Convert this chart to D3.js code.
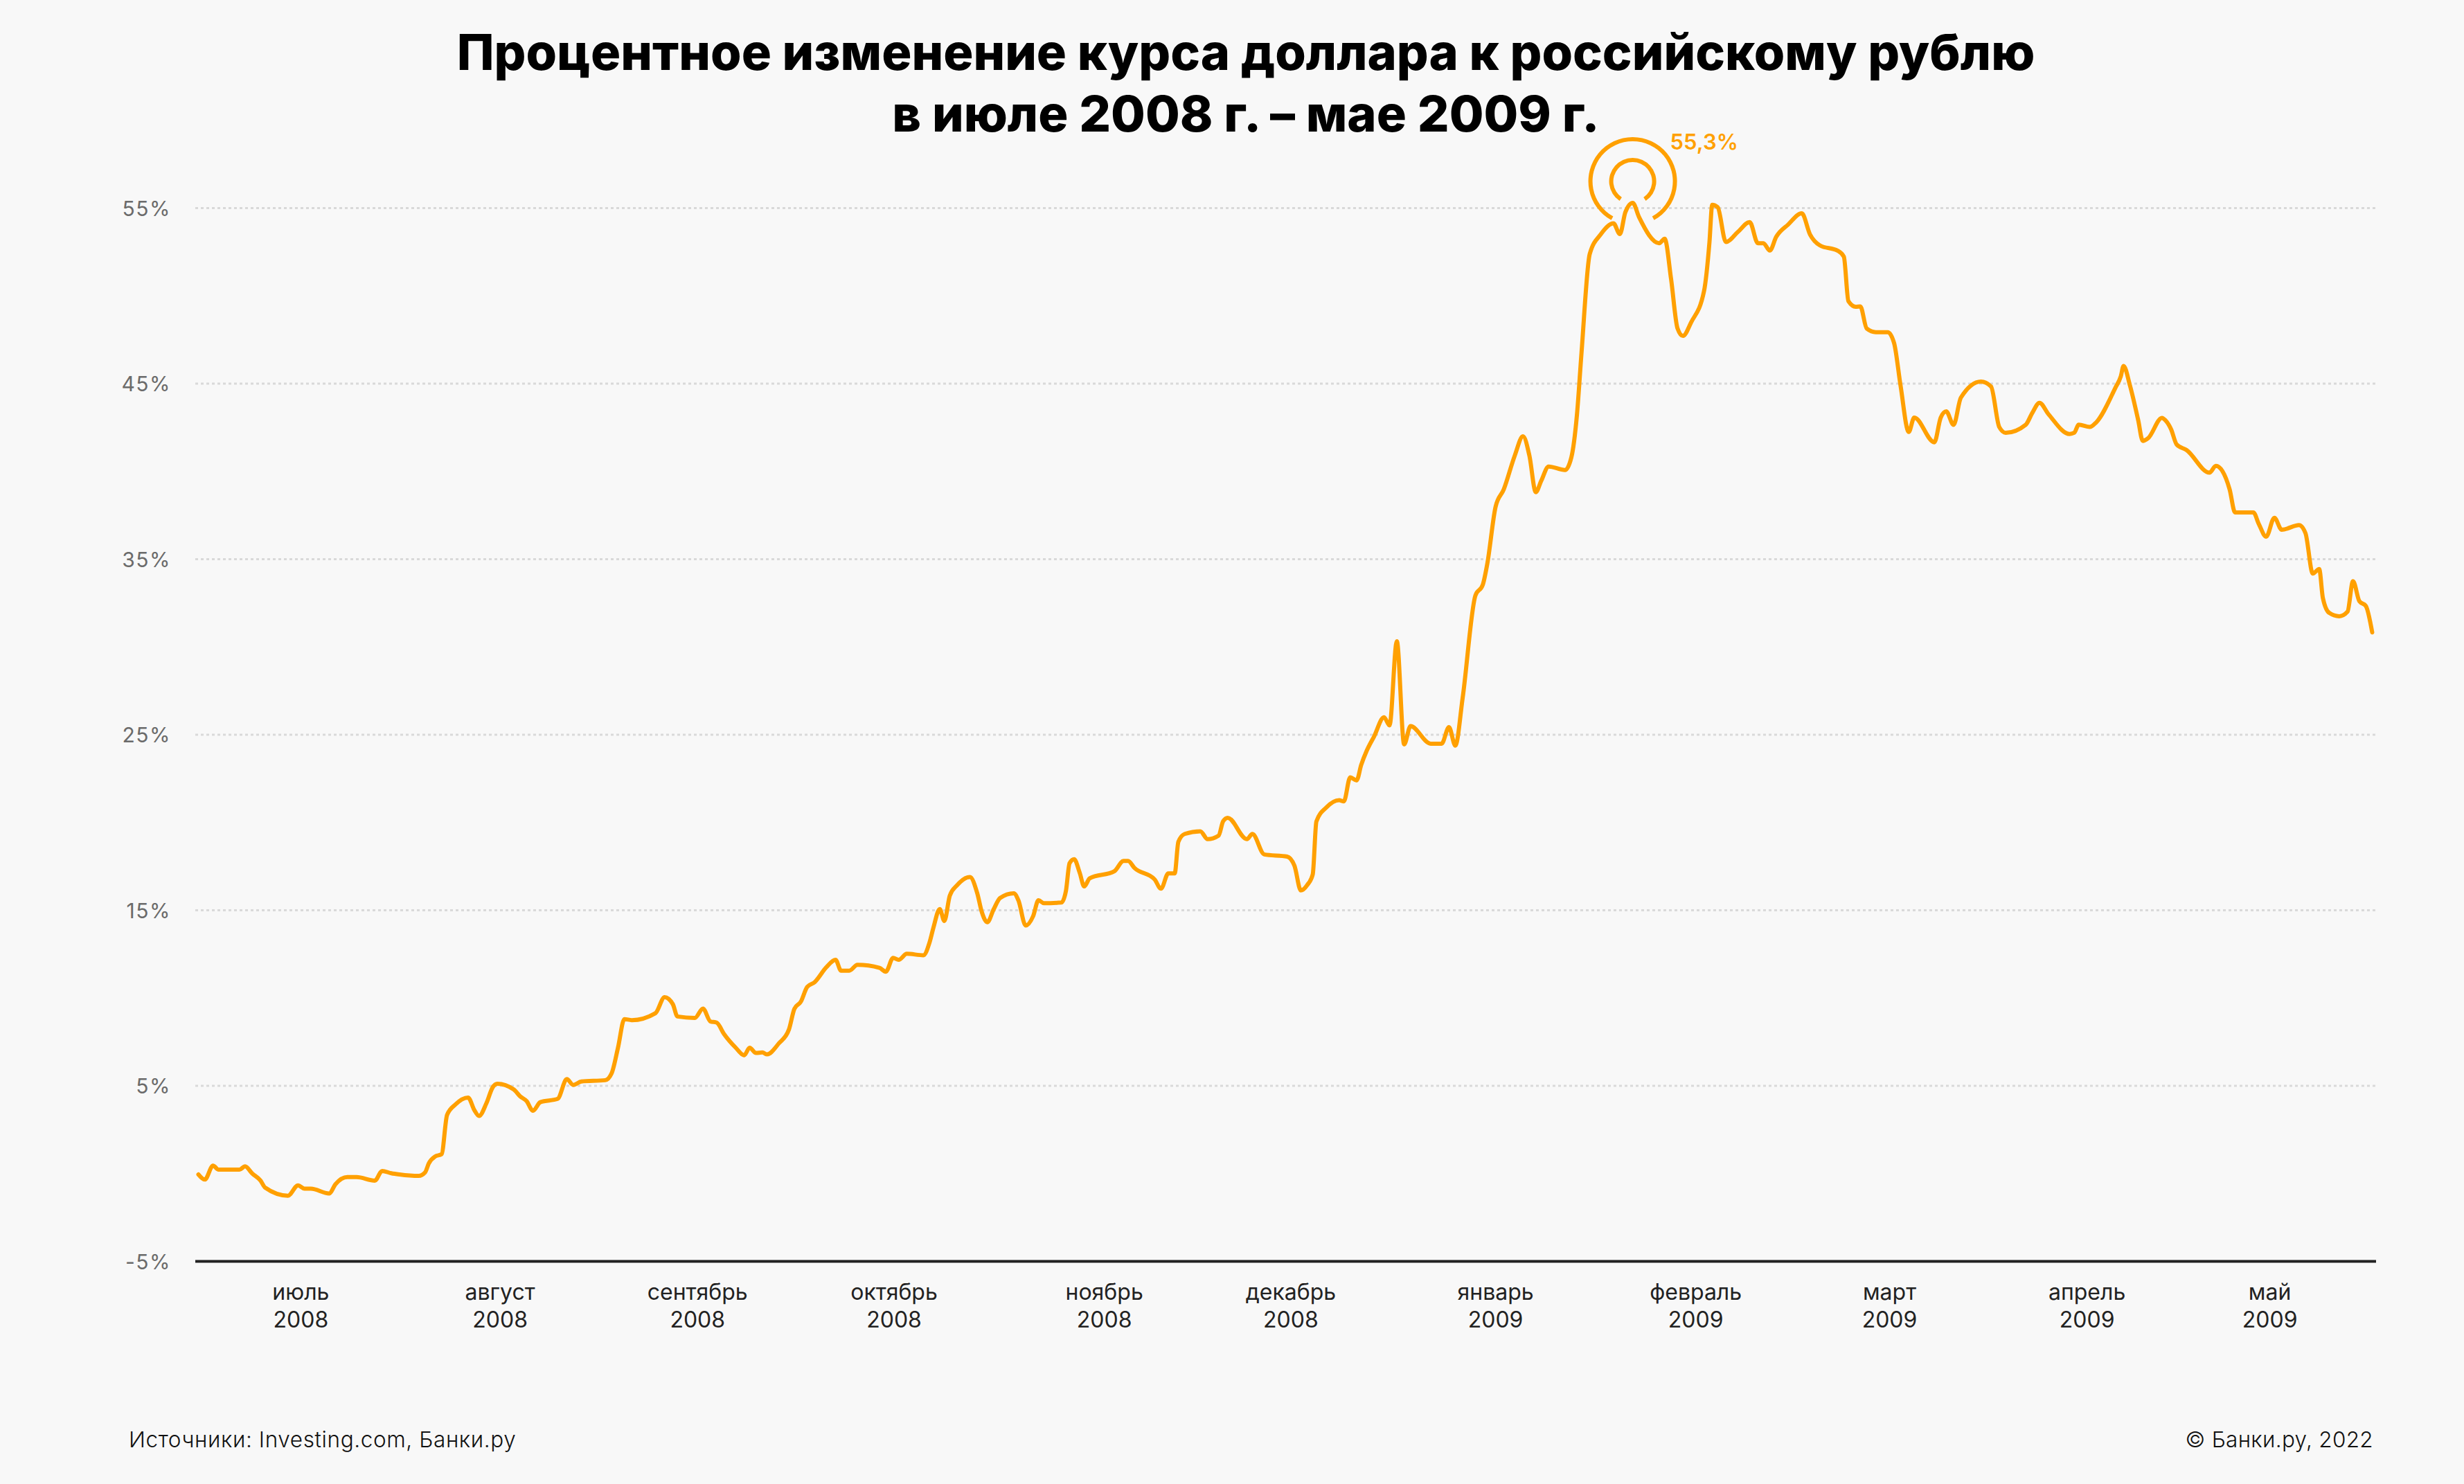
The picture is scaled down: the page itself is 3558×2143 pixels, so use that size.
<!DOCTYPE html>
<html>
<head>
<meta charset="utf-8">
<script src="https://cdn.jsdelivr.net/npm/d3@7"></script>
<style>
  html, body { margin: 0; padding: 0; background: #f8f8f8; }
  svg { display: block; }
</style>
</head>
<body>
<svg id="chart" width="3558" height="2143"></svg>
<script>
// ---- DATA ----
const titleLines = ["Процентное изменение курса доллара к российскому рублю", "в июле 2008 г. – мае 2009 г."];
const sourceText = "Источники: Investing.com, Банки.ру";
const copyrightText = "© Банки.ру, 2022";

// trading-day index (0 = start of July 2008) and % change of USD/RUB
const days = [0,0.7,1.6,2.2,4.5,5.1,5.9,6.8,7.3,9.8,10.9,11.6,12.3,14.3,15.0,16.3,17.3,19.3,20.1,21.1,22.0,24.1,24.8,25.2,25.9,26.6,27.2,28.1,29.5,30.2,30.7,31.5,32.2,32.7,34.5,35.2,35.9,36.6,37.4,39.3,40.3,41.0,41.9,44.5,45.2,45.9,46.6,47.4,50.0,51.0,51.9,52.4,54.3,55.2,56.0,56.7,57.5,58.8,59.7,60.3,61.0,61.7,62.2,63.5,64.6,65.2,65.9,66.6,67.4,68.7,69.7,70.3,71.2,72.1,74.5,75.2,76.0,76.6,77.5,79.3,80.0,80.4,81.1,81.6,82.2,83.0,84.4,85.2,85.7,86.3,87.0,87.7,89.2,89.7,90.5,91.3,91.9,92.5,94.4,94.9,95.3,95.8,96.4,96.9,97.5,100.2,101.2,101.7,102.4,104.6,105.3,106.1,106.8,107.2,107.9,109.6,110.4,111.6,112.1,112.6,114.7,115.3,116.6,119.1,119.9,120.6,121.3,121.9,122.3,123.4,124.8,125.3,126.0,126.7,127.2,127.8,128.6,129.7,130.3,131.1,131.9,132.6,134.8,136.0,136.8,137.5,138.3,139.7,140.5,141.0,141.9,142.8,144.0,144.9,145.6,146.3,146.9,147.7,149.5,150.2,150.8,151.3,152.2,153.4,154.8,155.5,156.1,156.9,157.6,159.8,160.4,161.1,161.8,162.4,163.3,164.7,165.3,165.6,166.2,167.1,168.4,169.7,170.6,171.2,171.9,172.6,173.9,175.4,176.3,177.4,179.3,180.0,180.5,181.3,181.8,182.5,183.5,184.8,185.5,186.2,187.1,187.7,189.9,190.6,191.2,192.0,192.8,195.0,196.1,197.0,197.7,199.9,200.6,201.4,202.4,204.7,205.2,205.7,206.9,207.6,209.7,210.3,210.6,211.3,212.2,212.7,213.3,214.8,215.2,215.8,216.4,217.5,220.0,220.7,221.4,222.2,222.8,224.8,225.4,226.2,227.1,227.9,229.8,230.5,231.3,232.0,232.4,233.1,234.2,235.1,235.7,236.4,237.1,237.8];
const pct = [-0.05,-0.34,0.45,0.23,0.23,0.41,0.0,-0.4,-0.8,-1.26,-0.67,-0.86,-0.86,-1.13,-0.6,-0.2,-0.2,-0.4,0.15,0.02,-0.05,-0.13,0.07,0.58,0.98,1.1,3.34,3.93,4.33,3.6,3.28,4.0,4.92,5.12,4.79,4.4,4.13,3.58,4.07,4.26,5.38,5.05,5.25,5.32,5.71,7.17,8.8,8.74,9.14,10.05,9.65,8.95,8.87,9.4,8.67,8.6,7.95,7.16,6.74,7.17,6.87,6.9,6.79,7.42,8.21,9.39,9.79,10.64,10.9,11.76,12.18,11.56,11.56,11.89,11.72,11.5,12.29,12.18,12.52,12.44,13.2,14.0,15.07,14.39,15.84,16.43,16.89,15.97,14.9,14.32,15.06,15.7,15.97,15.57,14.13,14.65,15.57,15.4,15.44,16.1,17.68,17.91,17.15,16.36,16.82,17.22,17.81,17.81,17.41,16.76,16.23,17.1,17.1,18.9,19.35,19.5,19.05,19.25,20.07,20.27,19.05,19.35,18.18,18.06,17.54,16.13,16.44,17.04,20.06,20.86,21.27,21.2,22.57,22.4,23.28,24.08,24.89,26.0,25.53,30.33,24.45,25.49,24.49,24.49,25.43,24.38,27.1,32.94,33.54,34.75,37.98,38.98,40.9,42.0,40.9,38.82,39.47,40.28,40.08,40.82,43.21,46.74,52.38,53.5,54.13,53.52,54.77,55.3,54.48,53.0,53.25,50.96,48.16,47.72,48.5,50.26,53.07,55.19,55.05,53.07,53.64,54.2,53.0,53.0,52.58,53.36,54.06,54.7,53.5,52.87,52.58,52.23,49.7,49.38,49.4,48.14,47.93,47.93,47.3,44.9,42.25,43.07,41.66,43.07,43.42,42.65,44.2,45.12,44.84,42.53,42.2,42.66,43.32,43.91,43.25,42.13,42.2,42.66,42.53,42.79,44.76,45.42,46.01,44.89,42.92,41.74,41.9,43.05,42.9,42.4,41.54,41.21,39.93,40.32,40.03,38.98,37.66,37.66,37.0,36.28,37.36,36.68,36.94,36.48,34.18,34.44,32.8,31.94,31.75,32.01,33.75,32.6,32.34,30.83];

const monthNames = ["июль","август","сентябрь","октябрь","ноябрь","декабрь","январь","февраль","март","апрель","май"];
const monthYears = ["2008","2008","2008","2008","2008","2008","2009","2009","2009","2009","2009"];
const monthPos = [11.2,33.0,54.6,76.1,99.1,119.5,141.9,163.8,185.0,206.6,226.6];

const yTicks = [-5,5,15,25,35,45,55];
const peakLabel = "55,3%";

// ---- CHART ----
const W = 3558, H = 2143;
const plot = { left: 282, right: 3431, top: 300.5, bottom: 1821.5 };
const orange = "#ffa000";
const font = "Inter, 'Noto Sans', sans-serif";

const svg = d3.select("#chart");
svg.append("rect").attr("width", W).attr("height", H).attr("fill", "#f8f8f8");

const x = d3.scaleLinear().domain([0, 238]).range([286.5, 286.5 + 238 * 13.2]);
const y = d3.scaleLinear().domain([-5, 55]).range([plot.bottom, plot.top]);

// title
const title = svg.append("text")
  .attr("x", 1799).attr("y", 101)
  .attr("text-anchor", "middle")
  .attr("font-family", font).attr("font-weight", 800)
  .attr("font-size", 72).attr("fill", "#000");
titleLines.forEach((t, i) => {
  title.append("tspan").attr("x", 1799).attr("y", 101 + i * 89).text(t);
});

// grid lines
svg.append("g").selectAll("line")
  .data(yTicks.filter(d => d > -5))
  .join("line")
  .attr("x1", plot.left).attr("x2", plot.right)
  .attr("y1", d => y(d)).attr("y2", d => y(d))
  .attr("stroke", "#d9d9d9").attr("stroke-width", 3)
  .attr("stroke-dasharray", "4 4");

// y-axis
const yAxis = d3.axisLeft(y).tickValues(yTicks).tickFormat(d => d + "%").tickSize(0).tickPadding(0);
const yg = svg.append("g").attr("transform", `translate(${247},0)`).call(yAxis);
yg.select(".domain").remove();
yg.selectAll("text")
  .attr("font-family", font).attr("font-size", 30)
  .attr("letter-spacing", 1.5)
  .attr("fill", "#6b6b6b").attr("dy", "0.35em");

// x baseline
svg.append("line")
  .attr("x1", plot.left).attr("x2", plot.right)
  .attr("y1", y(-5)).attr("y2", y(-5))
  .attr("stroke", "#222").attr("stroke-width", 4);

// x-axis labels
const xl = svg.append("g").selectAll("text")
  .data(monthNames)
  .join("text")
  .attr("text-anchor", "middle")
  .attr("font-family", font).attr("font-size", 32)
  .attr("fill", "#222");
xl.append("tspan").attr("x", (d, i) => x(monthPos[i])).attr("y", 1877).text(d => d);
xl.append("tspan").attr("x", (d, i) => x(monthPos[i])).attr("y", 1917).text((d, i) => monthYears[i]);

// line
const pts = days.map((d, i) => [d, pct[i]]);
svg.append("path")
  .datum(pts)
  .attr("fill", "none")
  .attr("stroke", orange).attr("stroke-width", 6)
  .attr("stroke-linejoin", "round").attr("stroke-linecap", "round")
  .attr("d", d3.line().x(d => x(d[0])).y(d => y(d[1])).curve(d3.curveMonotoneX));

// peak annotation
const peakIdx = d3.maxIndex(pct);
const px = x(days[peakIdx]), py = y(pct[peakIdx]);
const cy = py - 31;
const arc = d3.arc();
function ring(r, gapDeg) {
  const g = gapDeg * Math.PI / 180;
  svg.append("path")
    .attr("transform", `translate(${px},${cy})`)
    .attr("d", arc({ innerRadius: r - 3, outerRadius: r + 3, startAngle: Math.PI + g, endAngle: 3 * Math.PI - g }))
    .attr("fill", orange);
}
ring(61, 29);
ring(31, 34);
svg.append("text")
  .attr("x", px + 54).attr("y", 216)
  .attr("font-family", font).attr("font-weight", 600).attr("font-size", 31)
  .attr("fill", orange).text(peakLabel);

// footer
svg.append("text")
  .attr("x", 186).attr("y", 2090)
  .attr("font-family", font).attr("font-weight", 300).attr("font-size", 31.5)
  .attr("letter-spacing", 0.6)
  .attr("fill", "#111").text(sourceText);
svg.append("text")
  .attr("x", 3427).attr("y", 2090).attr("text-anchor", "end")
  .attr("font-family", font).attr("font-weight", 300).attr("font-size", 31.5)
  .attr("letter-spacing", 0.3)
  .attr("fill", "#111").text(copyrightText);
</script>
</body>
</html>
